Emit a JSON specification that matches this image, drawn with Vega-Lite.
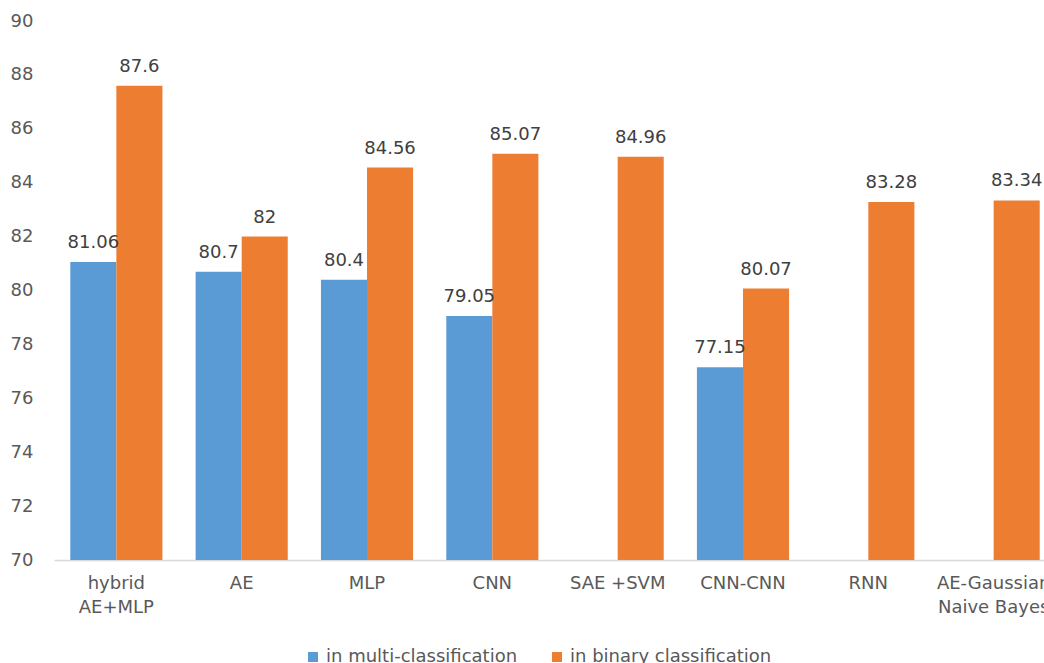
{
  "$schema": "https://vega.github.io/schema/vega-lite/v6.json",
  "width": 1002,
  "height": 539,
  "padding": {"left": 10, "top": 12, "right": 0, "bottom": 10},
  "background": "white",
  "config": {
    "font": "DejaVu Sans",
    "view": {"stroke": null},
    "axis": {"labelColor": "#595959", "labelFont": "DejaVu Sans", "labelFontSize": 18}
  },
  "data": {
    "values": [
      {"model": "hybrid AE+MLP", "type": "in multi-classification", "value": 81.06},
      {"model": "hybrid AE+MLP", "type": "in binary classification", "value": 87.6},
      {"model": "AE", "type": "in multi-classification", "value": 80.7},
      {"model": "AE", "type": "in binary classification", "value": 82},
      {"model": "MLP", "type": "in multi-classification", "value": 80.4},
      {"model": "MLP", "type": "in binary classification", "value": 84.56},
      {"model": "CNN", "type": "in multi-classification", "value": 79.05},
      {"model": "CNN", "type": "in binary classification", "value": 85.07},
      {"model": "SAE +SVM", "type": "in binary classification", "value": 84.96},
      {"model": "CNN-CNN", "type": "in multi-classification", "value": 77.15},
      {"model": "CNN-CNN", "type": "in binary classification", "value": 80.07},
      {"model": "RNN", "type": "in binary classification", "value": 83.28},
      {"model": "AE-Gaussian Naive Bayes", "type": "in binary classification", "value": 83.34}
    ]
  },
  "encoding": {
    "x": {
      "field": "model",
      "type": "nominal",
      "sort": ["hybrid AE+MLP", "AE", "MLP", "CNN", "SAE +SVM", "CNN-CNN", "RNN", "AE-Gaussian Naive Bayes"],
      "scale": {"paddingInner": 0.265, "paddingOuter": 0.13},
      "axis": {
        "title": null,
        "labelAngle": 0,
        "ticks": false,
        "domainColor": "#d9d9d9",
        "domainWidth": 1.5,
        "labelPadding": 14,
        "labelLineHeight": 24,
        "labelBaseline": "top",
        "labelExpr": "datum.label == 'hybrid AE+MLP' ? ['hybrid', 'AE+MLP'] : datum.label == 'AE-Gaussian Naive Bayes' ? ['AE-Gaussian', 'Naive Bayes'] : datum.label"
      }
    },
    "xOffset": {
      "field": "type",
      "type": "nominal",
      "sort": ["in multi-classification", "in binary classification"],
      "scale": {"domain": ["in multi-classification", "in binary classification"]}
    },
    "y": {
      "field": "value",
      "type": "quantitative",
      "scale": {"domain": [70, 90], "zero": false, "nice": false},
      "axis": {
        "title": null,
        "values": [70, 72, 74, 76, 78, 80, 82, 84, 86, 88, 90],
        "grid": false,
        "ticks": false,
        "domain": false,
        "labelPadding": 21
      }
    }
  },
  "layer": [
    {
      "mark": {"type": "bar", "clip": true},
      "encoding": {
        "y2": {"datum": 70},
        "color": {
          "field": "type",
          "type": "nominal",
          "sort": ["in multi-classification", "in binary classification"],
          "scale": {"domain": ["in multi-classification", "in binary classification"], "range": ["#5B9BD5", "#ED7D31"]},
          "legend": {
            "title": null,
            "orient": "none",
            "legendX": 250,
            "legendY": 627,
            "direction": "horizontal",
            "symbolType": "square",
            "symbolSize": 100,
            "symbolStrokeWidth": 0,
            "labelFontSize": 18,
            "labelColor": "#595959",
            "labelFont": "DejaVu Sans",
            "labelLimit": 0,
            "labelOffset": 4,
            "columnPadding": 30
          }
        }
      }
    },
    {
      "mark": {"type": "text", "baseline": "bottom", "dy": -10, "fontSize": 18, "color": "#404040", "font": "DejaVu Sans"},
      "encoding": {"text": {"field": "value", "type": "quantitative"}}
    }
  ]
}
